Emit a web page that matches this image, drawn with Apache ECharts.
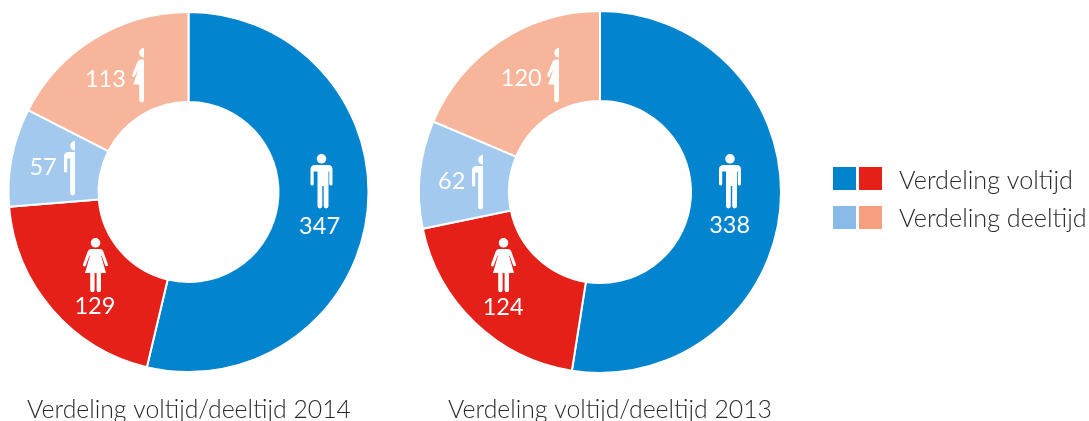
<!DOCTYPE html>
<html>
<head>
<meta charset="utf-8">
<title>Verdeling voltijd/deeltijd</title>
<script src="https://cdn.jsdelivr.net/npm/echarts@6/dist/echarts.min.js"></script>
<style>
  html, body { margin: 0; padding: 0; background: #fff; overflow: hidden; }
  #chart { width: 1089px; height: 421px; }
</style>
</head>
<body>
<div id="chart"></div>
<script>
var categories = ['Mannen voltijd', 'Vrouwen voltijd', 'Mannen deeltijd', 'Vrouwen deeltijd']
var values2014 = [347, 129, 57, 113]
var values2013 = [338, 124, 62, 120]
var title2014 = 'Verdeling voltijd/deeltijd 2014'
var title2013 = 'Verdeling voltijd/deeltijd 2013'
var legendLabels = ['Verdeling voltijd', 'Verdeling deeltijd']

var sliceColors = ['#0384ce', '#e52019', '#a3c9ee', '#f7b59b']
var fontName = 'Lato, "Noto Sans", sans-serif'

// pictogrammen
var iconPaths = {
  man: 'M11 0a4.8 4.8 0 1 1 0 9.6a4.8 4.8 0 1 1 0-9.6z' +
    'M4.5 11H17.5Q22 11 22 15.5V30a1.6 1.6 0 0 1-3.2 0V17.5H18V52a2.4 2.4 0 0 1-4.8 0V32H11.8V52a2.4 2.4 0 0 1-4.8 0V17.5H3.2V30a1.6 1.6 0 0 1-3.2 0V15.5Q0 11 4.5 11z',
  woman: 'M12.5 0a4.8 4.8 0 1 1 0 9.6a4.8 4.8 0 1 1 0-9.6z' +
    'M8 11H17Q19.5 11 20.5 14L25 26.5a1.5 1.5 0 0 1-2.8 1L18.5 17.5H18L23 35H18V52a2.2 2.2 0 0 1-4.4 0V35H11.6V52a2.2 2.2 0 0 1-4.4 0V35H2L7 17.5H6.5L2.8 27.5a1.5 1.5 0 0 1-2.8-1L4.5 14Q5.5 11 8 11z',
  halfMan: 'M11 0a4.8 4.8 0 0 0 0 9.6z' +
    'M4.5 11H11V52a2.4 2.4 0 0 1-4.8 0V17.5H3.2V30a1.6 1.6 0 0 1-3.2 0V15.5Q0 11 4.5 11z',
  halfWoman: 'M12 0a4.8 4.8 0 0 0 0 9.6z' +
    'M8.5 11.5H12V52a2.4 2.4 0 0 1-4.8 0V36.5H1.2L6.8 20.5L2.8 28a1.3 1.3 0 0 1-2.6-1L5 15Q6 11.5 8.5 11.5z'
}
Object.keys(iconPaths).forEach(function (name) {
  echarts.graphic.registerShape(name, echarts.graphic.extendPath(iconPaths[name], {}))
})

function icon (name, x, y) {
  return { type: name, x: x, y: y, silent: true, z: 10, style: { fill: '#fff' } }
}

function swatch (x, y, color) {
  return { type: 'rect', shape: { x: x, y: y, width: 23, height: 23 }, style: { fill: color } }
}

function legendText (y, text) {
  return {
    type: 'text', x: 899, y: y,
    style: { text: text, fill: '#2b2a29', font: '300 25.2px ' + fontName, verticalAlign: 'middle' }
  }
}

function titleOption (text, left) {
  return {
    text: text, left: left, top: 398, padding: 0, textAlign: 'center',
    textStyle: { color: '#2b2a29', fontFamily: fontName, fontWeight: 300, fontSize: 24.8 }
  }
}

function pie (center, radius, values, offsets) {
  return {
    type: 'pie',
    center: center,
    radius: radius,
    startAngle: 90,
    clockwise: true,
    silent: true,
    animation: false,
    itemStyle: { borderColor: '#fff', borderWidth: 2 },
    label: { show: true, position: 'inside', color: '#fff', fontFamily: fontName, fontSize: 23.5, letterSpacing: 1 },
    labelLine: { show: false },
    data: values.map(function (v, i) {
      return {
        name: categories[i],
        value: v,
        itemStyle: { color: sliceColors[i] },
        label: { offset: offsets[i], formatter: String(v) }
      }
    })
  }
}

var chart = echarts.init(document.getElementById('chart'), null, { renderer: 'canvas' })
chart.setOption({
  animation: false,
  title: [titleOption(title2014, 189), titleOption(title2013, 610)],
  series: [
    pie([188.5, 192], [90, 180], values2014, [[-6, 18], [11, 24], [-10, 2], [-11, 5]]),
    pie([600, 192], [91, 181], values2013, [[-9, 23], [-1, 15], [-10, 3], [-2, 2]])
  ],
  graphic: [
    icon('man', 310.5, 154),
    icon('woman', 83, 238),
    icon('halfMan', 64, 141),
    icon('halfWoman', 132, 48),
    icon('man', 719, 154),
    icon('woman', 491, 238),
    icon('halfMan', 472, 155),
    icon('halfWoman', 547, 48),
    swatch(833, 167, '#0083cd'),
    swatch(859, 167, '#e52019'),
    swatch(833, 206, '#8abbe8'),
    swatch(859, 206, '#f59f80'),
    legendText(181, legendLabels[0]),
    legendText(219, legendLabels[1])
  ]
})
</script>
</body>
</html>
